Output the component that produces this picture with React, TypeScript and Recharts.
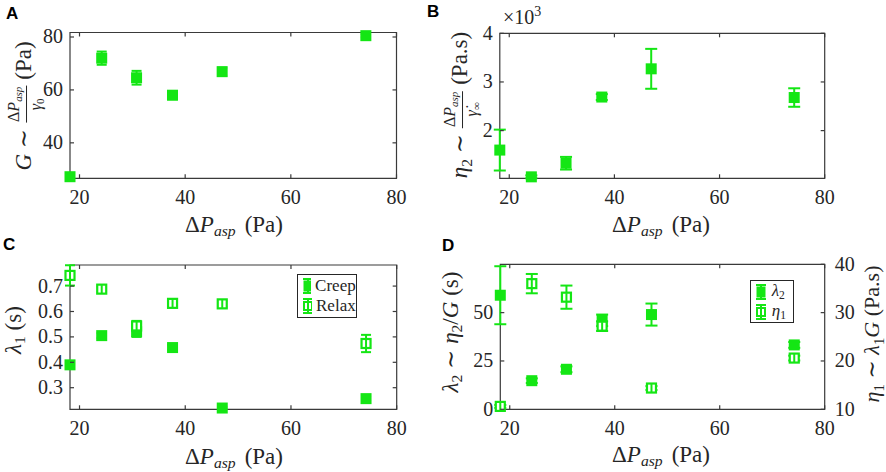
import React from 'react';
import { ScatterChart, Scatter, XAxis, YAxis, ErrorBar, ReferenceArea } from 'recharts';

const GREEN = '#14e614';
const INK = '#262626';
const SERIF = '"Liberation Serif", "DejaVu Serif", serif';

// aspiration pressure steps (Pa)
const pressure = [18.2, 24.2, 30.8, 37.6, 47.0, 74.2];
const xTicks = [20, 40, 60, 80];

// A: G ~ dP / gamma0 (Pa)
const shearModulus = [27.2, 72, 64.6, 58, 66.9, 80.5];
const shearModulusErr = [0.5, 2.5, 2.6, 1.5, 1.5, 0.6];
const gTicks = [40, 60, 80];

// B: eta2 (Pa.s)
const eta2 = [1600, 1050, 1330, 2690, 3270, 2680];
const eta2Err = [420, 30, 130, 60, 410, 190];
const eta2Ticks = [2000, 3000, 4000];

// C: lambda1 (s)
const lambda1Creep = [0.39, 0.505, 0.52, 0.458, 0.22, 0.257];
const lambda1CreepErr = [0.01, 0.01, 0.02, 0.01, 0.005, 0.008];
const lambda1Relax = [0.742, 0.688, 0.543, 0.632, 0.63, 0.474];
const lambda1RelaxErr = [0.04, 0.01, 0.02, 0.012, 0.012, 0.034];
const lambdaTicks = [0.3, 0.4, 0.5, 0.6, 0.7];

// D: lambda2 (s, left) and eta1 (Pa.s, right)
const lambda2 = [59, 14.8, 20.7, 46, 49, 33.3];
const lambda2Err = [15, 1.2, 1.5, 3, 5.7, 1.5];
const eta1 = [10.6, 36, 33.2, 27.2, 14.4, 20.6];
const eta1Err = [0.3, 2, 2.4, 1.0, 0.4, 0.5];
const lambda2Ticks = [0, 25, 50];
const eta1Ticks = [10, 20, 30, 40];

const toPoints = (ys: number[], errs: number[]) =>
  pressure.map((x, i) => ({ x, y: ys[i], e: errs[i] }));

const FilledSquare = (p: any) => (
  <rect x={p.cx - 5.5} y={p.cy - 5.5} width={11} height={11} fill={GREEN} />
);

const OpenSquare = (p: any) => (
  <g>
    <rect x={p.cx - 4.5} y={p.cy - 4.5} width={9} height={9} fill="#fff" stroke={GREEN} strokeWidth={2.2} />
    <line x1={p.cx} x2={p.cx} y1={p.cy - 4} y2={p.cy + 4} stroke={GREEN} strokeWidth={2} />
  </g>
);

type Box = { l: number; t: number; r: number; b: number };

const TICK = 4;
const textProps = { fill: INK, fontSize: 20, fontFamily: SERIF };
const frameLine = { stroke: '#3a3a3a', strokeWidth: 1.2, strokeOpacity: 1 };

// ticks point inwards on both sides of the box, matlab style
const bottomTick = (box: Box) => (p: any) => (
  <g>
    <line x1={p.x} x2={p.x} y1={box.b} y2={box.b - TICK} {...frameLine} />
    <line x1={p.x} x2={p.x} y1={box.t} y2={box.t + TICK} {...frameLine} />
    <text x={p.x} y={box.b + 26} textAnchor="middle" {...textProps}>{p.payload.value}</text>
  </g>
);

const leftTick = (box: Box, fmt: (v: number) => string, mirror: boolean) => (p: any) => (
  <g>
    <line x1={box.l} x2={box.l + TICK} y1={p.y} y2={p.y} {...frameLine} />
    {mirror && <line x1={box.r} x2={box.r - TICK} y1={p.y} y2={p.y} {...frameLine} />}
    <text x={box.l - 7} y={p.y + 6.5} textAnchor="end" {...textProps}>{fmt(p.payload.value)}</text>
  </g>
);

const rightTick = (box: Box) => (p: any) => (
  <g>
    <line x1={box.r} x2={box.r - TICK} y1={p.y} y2={p.y} {...frameLine} />
    <text x={box.r + 10} y={p.y + 6.5} textAnchor="start" {...textProps}>{p.payload.value}</text>
  </g>
);

const margins = (box: Box, rightW: number) => ({
  left: box.l - 40,
  top: box.t,
  right: 443 - box.r - rightW,
  bottom: 236 - box.b - 30,
});

function frame(box: Box, xDomain: number[], yDomain: number[], yTicks: number[], yFmt: (v: number) => string, mirror = true) {
  return [
    <XAxis key="xb" xAxisId="b" type="number" dataKey="x" domain={xDomain} ticks={xTicks} interval={0}
      height={30} axisLine={false} tickLine={false} tick={bottomTick(box)} />,
    <YAxis key="yl" yAxisId="l" type="number" dataKey="y" domain={yDomain} ticks={yTicks} interval={0}
      width={40} axisLine={false} tickLine={false} tick={leftTick(box, yFmt, mirror)} />,
    <ReferenceArea key="box" xAxisId="b" yAxisId="l" x1={xDomain[0]} x2={xDomain[1]} y1={yDomain[0]} y2={yDomain[1]}
      ifOverflow="visible" fill="none" fillOpacity={0} {...frameLine} />,
  ];
}

const Sub = ({ children, it }: { children: React.ReactNode; it?: boolean }) => (
  <span style={{ fontSize: '0.68em', verticalAlign: '-0.28em', fontStyle: it ? 'italic' : 'normal' }}>{children}</span>
);

const DeltaP = () => (
  <span>Δ<i>P</i><Sub it>asp</Sub></span>
);

const Frac = ({ num, den }: { num: React.ReactNode; den: React.ReactNode }) => (
  <span style={{ display: 'inline-flex', flexDirection: 'column', alignItems: 'center', fontSize: 16, lineHeight: 1.1, margin: '0 6px', verticalAlign: 'middle' }}>
    <span style={{ borderBottom: `1px solid ${INK}`, padding: '0 1px 1px' }}>{num}</span>
    <span>{den}</span>
  </span>
);

const YLabel = ({ x, y, children, size = 23 }: { x: number; y: number; children: React.ReactNode; size?: number }) => (
  <div style={{
    position: 'absolute', left: x, top: y, transform: 'translate(-50%, -50%) rotate(-90deg)',
    whiteSpace: 'nowrap', fontFamily: SERIF, fontSize: size, color: INK, lineHeight: 1,
  }}>{children}</div>
);

const XLabel = ({ x, y }: { x: number; y: number }) => (
  <div style={{
    position: 'absolute', left: x, top: y, transform: 'translate(-50%, -50%)',
    whiteSpace: 'nowrap', fontFamily: SERIF, fontSize: 23, color: INK, lineHeight: 1,
  }}><DeltaP /><span style={{ marginLeft: 9 }}>(Pa)</span></div>
);

const Letter = ({ x, y, t }: { x: number; y: number; t: string }) => (
  <div style={{ position: 'absolute', left: x, top: y, fontFamily: '"Liberation Sans", Arial, sans-serif', fontWeight: 700, fontSize: 17, lineHeight: 1 }}>{t}</div>
);

const LegendMark = ({ open }: { open?: boolean }) => (
  <svg width={14} height={18} style={{ display: 'block' }}>
    <line x1={2} x2={12} y1={2} y2={2} stroke={GREEN} strokeWidth={2} />
    <line x1={2} x2={12} y1={16} y2={16} stroke={GREEN} strokeWidth={2} />
    <line x1={7} x2={7} y1={2} y2={16} stroke={GREEN} strokeWidth={2} />
    {open
      ? <rect x={3} y={5} width={8} height={8} fill="none" stroke={GREEN} strokeWidth={2} />
      : <rect x={2.5} y={3.5} width={9} height={11} fill={GREEN} />}
  </svg>
);

const LegendBox = ({ x, y, w, h, items }: { x: number; y: number; w: number; h: number; items: { label: React.ReactNode; open?: boolean }[] }) => (
  <div style={{
    position: 'absolute', left: x, top: y, width: w, height: h, boxSizing: 'border-box',
    border: `1px solid ${INK}`, background: '#fff', fontFamily: SERIF, fontSize: 17, color: INK,
    display: 'flex', flexDirection: 'column', justifyContent: 'center', gap: 1, paddingLeft: 3,
  }}>
    {items.map((it, i) => (
      <div key={i} style={{ display: 'flex', alignItems: 'center', gap: 4, height: 19 }}>
        <LegendMark open={it.open} />
        <span>{it.label}</span>
      </div>
    ))}
  </div>
);

const boxA: Box = { l: 70, t: 32.5, r: 396.5, b: 178.3 };
const boxB: Box = { l: 56.8, t: 33.3, r: 381.7, b: 178.3 };
const boxC: Box = { l: 70, t: 29, r: 396.7, b: 173.3 };
const boxD: Box = { l: 57.3, t: 28.3, r: 381.7, b: 173.3 };
const xDomain = [18.2, 80];
const gDomain = [26.6, 81.7];
const eta2Domain = [1020, 4000];
const lambdaDomain = [0.215, 0.783];
const lambda2Domain = [0, 75];
const eta1Domain = [10, 40];

export default function App() {
  return (
    <div style={{ position: 'absolute', left: 0, top: 0, width: 886, height: 472, background: '#fff', overflow: 'hidden' }}>
      <div style={{ position: 'absolute', left: 0, top: 0 }}>
        <ScatterChart width={443} height={236} margin={margins(boxA, 0)}>
          {frame(boxA, xDomain, gDomain, gTicks, (v) => String(v))}
          <Scatter data={toPoints(shearModulus, shearModulusErr)} xAxisId="b" yAxisId="l" fill={GREEN} shape={FilledSquare} isAnimationActive={false}>
            <ErrorBar dataKey="e" direction="y" width={5} stroke={GREEN} strokeWidth={2} isAnimationActive={false} />
          </Scatter>
        </ScatterChart>
      </div>

      <div style={{ position: 'absolute', left: 443, top: 0 }}>
        <ScatterChart width={443} height={236} margin={margins(boxB, 0)}>
          {frame(boxB, xDomain, eta2Domain, eta2Ticks, (v) => String(v / 1000))}
          <Scatter data={toPoints(eta2, eta2Err)} xAxisId="b" yAxisId="l" fill={GREEN} shape={FilledSquare} isAnimationActive={false}>
            <ErrorBar dataKey="e" direction="y" width={6} stroke={GREEN} strokeWidth={2} isAnimationActive={false} />
          </Scatter>
        </ScatterChart>
      </div>

      <div style={{ position: 'absolute', left: 0, top: 236 }}>
        <ScatterChart width={443} height={236} margin={margins(boxC, 0)}>
          {frame(boxC, xDomain, lambdaDomain, lambdaTicks, (v) => v.toFixed(1))}
          <Scatter name="Creep" data={toPoints(lambda1Creep, lambda1CreepErr)} xAxisId="b" yAxisId="l" fill={GREEN} shape={FilledSquare} isAnimationActive={false}>
            <ErrorBar dataKey="e" direction="y" width={5} stroke={GREEN} strokeWidth={2} isAnimationActive={false} />
          </Scatter>
          <Scatter name="Relax" data={toPoints(lambda1Relax, lambda1RelaxErr)} xAxisId="b" yAxisId="l" fill={GREEN} shape={OpenSquare} isAnimationActive={false}>
            <ErrorBar dataKey="e" direction="y" width={5} stroke={GREEN} strokeWidth={2} isAnimationActive={false} />
          </Scatter>
        </ScatterChart>
      </div>

      <div style={{ position: 'absolute', left: 443, top: 236 }}>
        <ScatterChart width={443} height={236} margin={margins(boxD, 40)}>
          {frame(boxD, xDomain, lambda2Domain, lambda2Ticks, (v) => String(v), false)}
          <YAxis yAxisId="r" orientation="right" type="number" dataKey="y" domain={eta1Domain} ticks={eta1Ticks} interval={0}
            width={40} axisLine={false} tickLine={false} tick={rightTick(boxD)} />
          <Scatter name="lambda2" data={toPoints(lambda2, lambda2Err)} xAxisId="b" yAxisId="l" fill={GREEN} shape={FilledSquare} isAnimationActive={false}>
            <ErrorBar dataKey="e" direction="y" width={6} stroke={GREEN} strokeWidth={2} isAnimationActive={false} />
          </Scatter>
          <Scatter name="eta1" data={toPoints(eta1, eta1Err)} xAxisId="b" yAxisId="r" fill={GREEN} shape={OpenSquare} isAnimationActive={false}>
            <ErrorBar dataKey="e" direction="y" width={6} stroke={GREEN} strokeWidth={2} isAnimationActive={false} />
          </Scatter>
        </ScatterChart>
      </div>

      <Letter x={6} y={5} t="A" />
      <Letter x={427} y={3} t="B" />
      <Letter x={3} y={236} t="C" />
      <Letter x={442} y={237} t="D" />

      <div style={{ position: 'absolute', left: 503, top: 5, fontFamily: SERIF, fontSize: 20, color: INK, lineHeight: 1 }}>
        ×10<sup style={{ fontSize: '0.7em' }}>3</sup>
      </div>

      <YLabel x={26} y={106}>
        <i>G</i> ∼<Frac num={<DeltaP />} den={<span><i>γ</i><Sub>0</Sub></span>} />(Pa)
      </YLabel>
      <YLabel x={462} y={105}>
        <i>η</i><Sub>2</Sub> ∼<Frac num={<DeltaP />} den={<span><i>γ̇</i><Sub>∞</Sub></span>} />(Pa.s)
      </YLabel>
      <YLabel x={15} y={330}>
        <i>λ</i><Sub>1</Sub> (s)
      </YLabel>
      <YLabel x={452} y={332}>
        <i>λ</i><Sub>2</Sub> ∼ <i>η</i><Sub>2</Sub>/<i>G</i> (s)
      </YLabel>
      <YLabel x={874} y={334} size={22}>
        <i>η</i><Sub>1</Sub> ∼ <i>λ</i><Sub>1</Sub><i>G</i> (Pa.s)
      </YLabel>

      <XLabel x={234} y={226} />
      <XLabel x={661} y={226} />
      <XLabel x={234} y={458} />
      <XLabel x={661} y={456} />

      <LegendBox x={296.7} y={274} w={60} h={44} items={[{ label: 'Creep' }, { label: 'Relax', open: true }]} />
      <LegendBox x={749.7} y={280.3} w={44} h={43} items={[
        { label: <span><i>λ</i><Sub>2</Sub></span> },
        { label: <span><i>η</i><Sub>1</Sub></span>, open: true },
      ]} />
    </div>
  );
}
